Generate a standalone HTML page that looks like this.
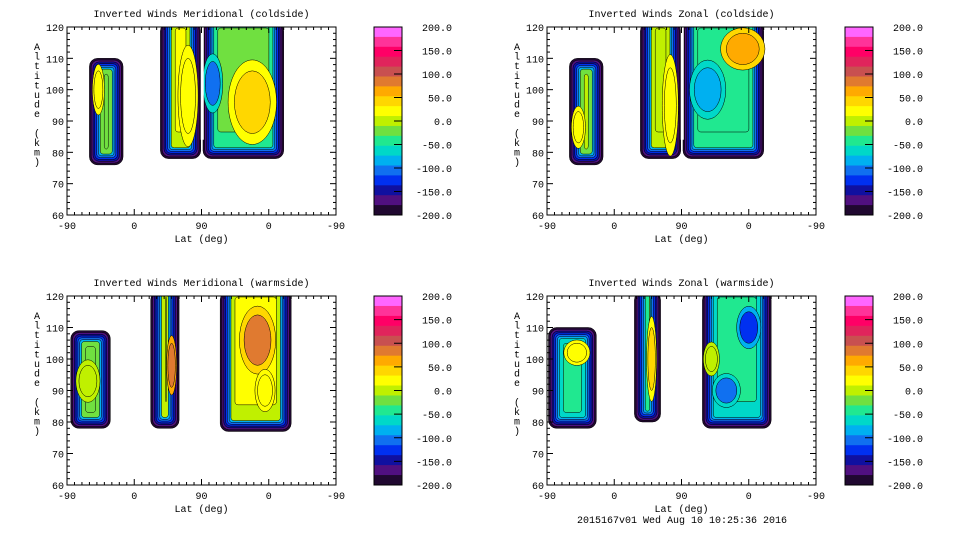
<!DOCTYPE html>
<html><head><meta charset="utf-8">
<style>
body{margin:0;background:#fff;}
svg text{font-family:"Liberation Mono",monospace;font-size:10px;fill:#000;}
</style></head>
<body>
<svg id="fig" width="960" height="540" viewBox="0 0 960 540" xmlns="http://www.w3.org/2000/svg"></svg>
<script>
// ---- data ----
const cbLevels = [200,150,100,50,0,-50,-100,-150,-200];
const cbColors = ["#ff66ff","#ff3399","#ff0066","#e0245c","#c85050","#e07a30","#ffaa00","#ffd700","#ffff00","#c0f000","#70e040","#20e890","#00d8c8","#00b0f0","#1070f0","#0030f0","#1010a0","#501080","#200830"];
const xTickLabels = ["-90","0","90","0","-90"];
const yTicks = [60,70,80,90,100,110,120];
const panelTitles = ["Inverted Winds Meridional (coldside)","Inverted Winds Zonal (coldside)","Inverted Winds Meridional (warmside)","Inverted Winds Zonal (warmside)"];
// blobs: panel, u0,u1 (0..360 along axis), alt0, alt1, base wind value
const blobPanel = [0,0,0, 1,1,1, 2,2,2, 3,3,3];
const blobU0    = [30,125,182, 30,125,182, 5,112,205, 2,117,208];
const blobU1    = [75,179,290, 75,179,290, 58,150,300, 66,152,300];
const blobA0    = [76,78,78, 76,78,78, 78,78,77, 78,80,78];
const blobA1    = [110,120,120, 110,120,120, 109,120,120, 110,120,120];
const blobVal   = [-30,5,-40, -20,-10,-55, -30,-10,0, -60,-40,-70];
// features: panel, u, alt, ru, ra, value
const featPanel = [0,0,0,0, 1,1,1,1, 2,2,2,2, 3,3,3,3,3];
const featU     = [42,162,248,195, 42,165,215,262, 28,140,255,265, 40,140,220,270,240];
const featA     = [100,98,96,102, 88,95,100,113, 93,98,106,90, 102,100,100,110,90];
const featRU    = [6,10,24,10, 7,8,18,22, 12,5,18,10, 13,5,8,12,14];
const featRA    = [6,12,10,7, 5,12,7,5, 5,7,8,5, 3,10,4,5,4];
const featVal   = [30,30,40,-100, 20,20,-95,60, 10,100,80,30, 20,50,10,-140,-100];

// ---- layout ----
const NS="http://www.w3.org/2000/svg";
const svg=document.getElementById('fig');
const panels=[{x:67,y:27,w:269,h:188,cx:374},{x:547,y:27,w:269,h:188,cx:845},{x:67,y:296,w:269,h:189,cx:374},{x:547,y:296,w:269,h:189,cx:845}];
function el(t,a,p){const e=document.createElementNS(NS,t);for(const k in a)e.setAttribute(k,a[k]);(p||svg).appendChild(e);return e;}
function colorFor(v){let i=Math.round((200-v)/400*(cbColors.length-1));i=Math.max(0,Math.min(cbColors.length-1,i));return cbColors[i];}
const rings=["#200830","#501080","#1010a0","#0030f0","#1070f0","#00b0f0"];

panels.forEach((P,pi)=>{
  const g=el('g',{});
  
  
  const xs=u=>P.x+u/360*P.w;
  const ys=a=>P.y+P.h-(a-60)/60*P.h;
  const t=el('text',{x:P.x+P.w/2,y:P.y-10,'text-anchor':'middle'},g);t.textContent=panelTitles[pi];
  
  
  const clip=el('clipPath',{id:'c'+pi},g);el('rect',{x:P.x,y:P.y,width:P.w,height:P.h},clip);
  const bg=el('g',{'clip-path':'url(#c'+pi+')'},g);
  for(let b=0;b<blobPanel.length;b++){
    if(blobPanel[b]!==pi)continue;
    const top=blobA1[b]>=120;
    const x0=xs(blobU0[b]),x1=xs(blobU1[b]),y0=ys(blobA1[b])-(top?4:0),y1=ys(blobA0[b]);
    const bl=el('g',{},bg);
    
    
    rings.forEach((c,k)=>{const d=k*1.8;el('rect',{x:x0+d,y:y0+(top?0:d),width:Math.max(1,x1-x0-2*d),height:Math.max(1,y1-y0-d-(top?0:d)),rx:Math.max(1,8-k),fill:c,stroke:'#000','stroke-width':0.5},bl);});
    const d=rings.length*1.8;
    el('rect',{x:x0+d,y:y0+(top?0:d),width:x1-x0-2*d,height:y1-y0-d-(top?0:d),rx:3,fill:colorFor(blobVal[b]),stroke:'#000','stroke-width':0.5},bl);
    el('rect',{x:x0+d+4,y:y0+(top?0:d)+5,width:Math.max(1,x1-x0-2*d-8),height:Math.max(1,y1-y0-2*d-10),rx:3,fill:colorFor(blobVal[b]+15),stroke:'#000','stroke-width':0.5},bl);
  }
  for(let f=0;f<featPanel.length;f++){
    if(featPanel[f]!==pi)continue;
    const cx=xs(featU[f]),cy=ys(featA[f]),rx=featRU[f]/360*P.w,ry=featRA[f]/60*P.h;
    const e1=el('ellipse',{cx,cy,rx:rx*1.35,ry:ry*1.35,fill:colorFor(featVal[f]*0.6),stroke:'#000','stroke-width':0.5},bg);
    
    
    el('ellipse',{cx,cy,rx,ry,fill:colorFor(featVal[f]),stroke:'#000','stroke-width':0.5},bg);
  }
  if(pi<2){el('line',{x1:xs(181),x2:xs(181),y1:P.y,y2:ys(84),stroke:'#fff','stroke-width':3},bg);}
  const fr=el('rect',{x:P.x,y:P.y,width:P.w,height:P.h,fill:'none',stroke:'#000','stroke-width':1},g);
  
  
  for(let u=0;u<=360;u+=10){const L=(u%90===0)?6:3;
    el('line',{x1:xs(u),x2:xs(u),y1:P.y+P.h,y2:P.y+P.h-L,stroke:'#000'},g);
    el('line',{x1:xs(u),x2:xs(u),y1:P.y,y2:P.y+L,stroke:'#000'},g);}
  xTickLabels.forEach((lab,i)=>{const tt=el('text',{x:xs(i*90),y:P.y+P.h+14,'text-anchor':'middle'},g);tt.textContent=lab;
    
    });
  for(let a=60;a<=120;a+=2){const L=(a%10===0)?6:3;
    el('line',{x1:P.x,x2:P.x+L,y1:ys(a),y2:ys(a),stroke:'#000'},g);
    el('line',{x1:P.x+P.w,x2:P.x+P.w-L,y1:ys(a),y2:ys(a),stroke:'#000'},g);}
  yTicks.forEach(a=>{const tt=el('text',{x:P.x-3,y:ys(a)+4,'text-anchor':'end'},g);tt.textContent=a;
    
    });
  const xl=el('text',{x:P.x+P.w/2,y:P.y+P.h+27,'text-anchor':'middle'},g);xl.textContent='Lat (deg)';
  
  
  const yl=el('g',{},g);
  
  
  "Altitude (km)".split('').forEach((ch,i)=>{const tt=el('text',{x:P.x-30,y:P.y+23+i*9.6,'text-anchor':'middle'},yl);tt.textContent=ch;});
  const cb=el('g',{},g);
  
  
  const bh=P.h/cbColors.length;
  cbColors.forEach((c,i)=>el('rect',{x:P.cx,y:P.y+i*bh,width:28,height:bh+0.5,fill:c},cb));
  el('rect',{x:P.cx,y:P.y,width:28,height:P.h,fill:'none',stroke:'#000'},cb);
  cbLevels.forEach((v,i)=>{const y=P.y+i*P.h/(cbLevels.length-1);
    el('line',{x1:P.cx+20,x2:P.cx+28,y1:y,y2:y,stroke:'#000'},cb);
    const tt=el('text',{x:P.cx+78,y:y+4,'text-anchor':'end'},cb);tt.textContent=v.toFixed(1);
    
    });
});
const ft=el('text',{x:682,y:523,'text-anchor':'middle'});ft.textContent='2015167v01 Wed Aug 10 10:25:36 2016';


</script>
</body></html>
